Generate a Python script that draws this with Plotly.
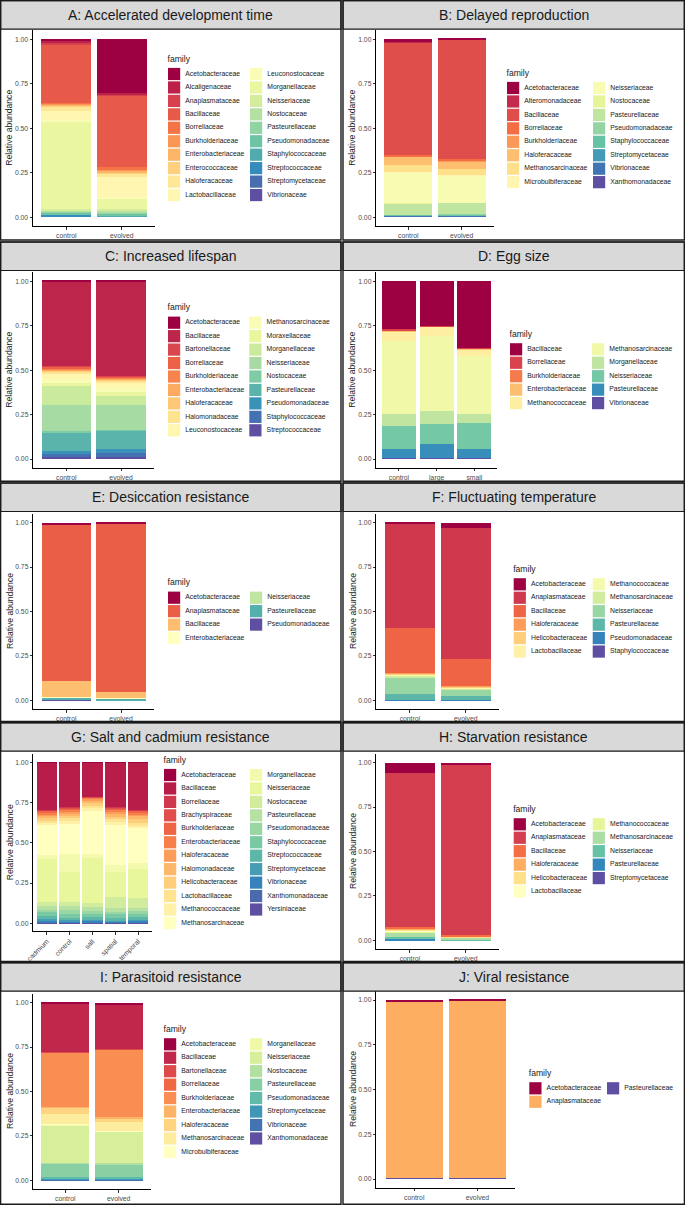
import math
import plotly.graph_objects as go

# ------------------------------------------------------------------ data
titles = ["A: Accelerated development time", "B: Delayed reproduction", "C: Increased lifespan",
          "D: Egg size", "E: Desiccation resistance", "F: Fluctuating temperature",
          "G: Salt and cadmium resistance", "H: Starvation resistance",
          "I: Parasitoid resistance", "J: Viral resistance"]

fam_A = ["Acetobacteraceae", "Alcaligenaceae", "Anaplasmataceae", "Bacillaceae", "Borreliaceae",
         "Burkholderiaceae", "Enterobacteriaceae", "Enterococcaceae", "Haloferacaceae",
         "Lactobacillaceae", "Leuconostocaceae", "Morganellaceae", "Neisseriaceae", "Nostocaceae",
         "Pasteurellaceae", "Pseudomonadaceae", "Staphylococcaceae", "Streptococcaceae",
         "Streptomycetaceae", "Vibrionaceae"]
samples_A = ["control", "evolved"]
A_control = [0.009, 0.010, 0.013, 0.324, 0.005, 0.006, 0.008, 0.007, 0.019, 0.052, 0.010, 0.492,
             0.009, 0.008, 0.006, 0.007, 0.004, 0.009, 0.001, 0.001]
A_evolved = [0.303, 0.008, 0.007, 0.397, 0.019, 0.008, 0.007, 0.010, 0.012, 0.115, 0.010, 0.058,
             0.012, 0.008, 0.009, 0.008, 0.006, 0.002, 0.001, 0.000]

fam_B = ["Acetobacteraceae", "Alteromonadaceae", "Bacillaceae", "Borreliaceae", "Burkholderiaceae",
         "Haloferacaceae", "Methanosarcinaceae", "Microbulbiferaceae", "Neisseriaceae", "Nostocaceae",
         "Pasteurellaceae", "Pseudomonadaceae", "Staphylococcaceae", "Streptomycetaceae",
         "Vibrionaceae", "Xanthomonadaceae"]
samples_B = ["control", "evolved"]
B_control = [0.015, 0.004, 0.631, 0.009, 0.004, 0.043, 0.037, 0.006, 0.172, 0.004, 0.062, 0.002,
             0.002, 0.003, 0.005, 0.001]
B_evolved = [0.001, 0.001, 0.672, 0.011, 0.004, 0.039, 0.034, 0.004, 0.152, 0.003, 0.062, 0.004,
             0.003, 0.004, 0.005, 0.001]

fam_C = ["Acetobacteraceae", "Bacillaceae", "Bartonellaceae", "Borreliaceae", "Burkholderiaceae",
         "Enterobacteriaceae", "Haloferacaceae", "Halomonadaceae", "Leuconostocaceae",
         "Methanosarcinaceae", "Moraxellaceae", "Morganellaceae", "Neisseriaceae", "Nostocaceae",
         "Pasteurellaceae", "Pseudomonadaceae", "Staphylococcaceae", "Streptococcaceae"]
samples_C = ["control", "evolved"]
C_control = [0.001, 0.476, 0.005, 0.010, 0.005, 0.006, 0.008, 0.011, 0.030, 0.023, 0.015, 0.105,
             0.148, 0.009, 0.103, 0.015, 0.020, 0.010]
C_evolved = [0.001, 0.532, 0.005, 0.008, 0.005, 0.005, 0.007, 0.008, 0.030, 0.022, 0.025, 0.047,
             0.140, 0.008, 0.102, 0.020, 0.023, 0.012]

fam_D = ["Bacillaceae", "Borreliaceae", "Burkholderiaceae", "Enterobacteriaceae", "Methanococcaceae",
         "Methanosarcinaceae", "Morganellaceae", "Neisseriaceae", "Pasteurellaceae", "Vibrionaceae"]
samples_D = ["control", "large", "small"]
D_control = [0.270, 0.008, 0.002, 0.003, 0.051, 0.413, 0.067, 0.130, 0.048, 0.008]
D_large = [0.251, 0.004, 0.002, 0.002, 0.049, 0.422, 0.071, 0.113, 0.078, 0.008]
D_small = [0.377, 0.004, 0.002, 0.002, 0.035, 0.327, 0.050, 0.145, 0.050, 0.008]

fam_E = ["Acetobacteraceae", "Anaplasmataceae", "Bacillaceae", "Enterobacteriaceae",
         "Neisseriaceae", "Pasteurellaceae", "Pseudomonadaceae"]
samples_E = ["control", "evolved"]
E_control = [0.011, 0.882, 0.090, 0.001, 0.002, 0.009, 0.005]
E_evolved = [0.001, 0.950, 0.038, 0.001, 0.001, 0.008, 0.001]

fam_F = ["Acetobacteraceae", "Anaplasmataceae", "Bacillaceae", "Haloferacaceae", "Helicobacteraceae",
         "Lactobacillaceae", "Methanococcaceae", "Methanosarcinaceae", "Neisseriaceae",
         "Pasteurellaceae", "Pseudomonadaceae", "Staphylococcaceae"]
samples_F = ["control", "evolved"]
F_control = [0.004, 0.587, 0.253, 0.003, 0.004, 0.004, 0.005, 0.015, 0.087, 0.034, 0.003, 0.001]
F_evolved = [0.028, 0.741, 0.150, 0.003, 0.004, 0.005, 0.004, 0.004, 0.039, 0.020, 0.001, 0.001]

fam_G = ["Acetobacteraceae", "Bacillaceae", "Borreliaceae", "Brachyspiraceae", "Burkholderiaceae",
         "Enterobacteriaceae", "Haloferacaceae", "Halomonadaceae", "Helicobacteraceae",
         "Lactobacillaceae", "Methanococcaceae", "Methanosarcinaceae", "Morganellaceae",
         "Neisseriaceae", "Nostocaceae", "Pasteurellaceae", "Pseudomonadaceae", "Staphylococcaceae",
         "Streptococcaceae", "Streptomycetaceae", "Vibrionaceae", "Xanthomonadaceae", "Yersiniaceae"]
samples_G = ["cadmium", "control", "salt", "spatial", "temporal"]
G_cadmium = [0.002, 0.294, 0.004, 0.004, 0.007, 0.012, 0.012, 0.013, 0.012, 0.015, 0.010, 0.191,
             0.024, 0.265, 0.025, 0.027, 0.015, 0.020, 0.023, 0.008, 0.013, 0.002, 0.002]
G_control = [0.004, 0.276, 0.003, 0.003, 0.010, 0.015, 0.010, 0.012, 0.012, 0.020, 0.020, 0.185,
             0.110, 0.190, 0.025, 0.025, 0.020, 0.025, 0.015, 0.008, 0.006, 0.003, 0.003]
G_salt = [0.002, 0.211, 0.003, 0.002, 0.004, 0.006, 0.008, 0.015, 0.018, 0.016, 0.017, 0.269,
          0.025, 0.280, 0.020, 0.030, 0.015, 0.020, 0.017, 0.008, 0.010, 0.002, 0.002]
G_spatial = [0.002, 0.278, 0.004, 0.003, 0.008, 0.010, 0.015, 0.020, 0.012, 0.020, 0.018, 0.248,
             0.045, 0.151, 0.073, 0.020, 0.018, 0.020, 0.018, 0.006, 0.007, 0.002, 0.002]
G_temporal = [0.002, 0.294, 0.004, 0.003, 0.008, 0.012, 0.012, 0.020, 0.020, 0.020, 0.012, 0.220,
              0.036, 0.178, 0.062, 0.022, 0.018, 0.020, 0.018, 0.006, 0.009, 0.002, 0.002]

fam_H = ["Acetobacteraceae", "Anaplasmataceae", "Bacillaceae", "Haloferacaceae", "Helicobacteraceae",
         "Lactobacillaceae", "Methanococcaceae", "Methanosarcinaceae", "Neisseriaceae",
         "Pasteurellaceae", "Streptomycetaceae"]
samples_H = ["control", "evolved"]
H_control = [0.056, 0.869, 0.013, 0.003, 0.004, 0.006, 0.004, 0.027, 0.012, 0.004, 0.002]
H_evolved = [0.011, 0.961, 0.004, 0.003, 0.002, 0.002, 0.002, 0.009, 0.004, 0.001, 0.001]

fam_I = ["Acetobacteraceae", "Bacillaceae", "Bartonellaceae", "Borreliaceae", "Burkholderiaceae",
         "Enterobacteriaceae", "Haloferacaceae", "Methanosarcinaceae", "Microbulbiferaceae",
         "Morganellaceae", "Neisseriaceae", "Nostocaceae", "Pasteurellaceae", "Pseudomonadaceae",
         "Streptomycetaceae", "Vibrionaceae", "Xanthomonadaceae"]
samples_I = ["control", "evolved"]
I_control = [0.004, 0.274, 0.002, 0.002, 0.303, 0.005, 0.035, 0.060, 0.002, 0.003, 0.212, 0.004,
             0.076, 0.006, 0.004, 0.006, 0.002]
I_evolved = [0.013, 0.246, 0.002, 0.002, 0.382, 0.005, 0.020, 0.050, 0.002, 0.003, 0.180, 0.004,
             0.075, 0.005, 0.003, 0.006, 0.002]

fam_J = ["Acetobacteraceae", "Anaplasmataceae", "Pasteurellaceae"]
samples_J = ["control", "evolved"]
J_control = [0.008, 0.986, 0.006]
J_evolved = [0.001, 0.994, 0.005]
colors_J = ["#9E0142", "#FDAE61", "#5E4FA2"]

y_ticks = [0, 0.25, 0.5, 0.75, 1.0]
y_ticklabels = ["0.00", "0.25", "0.50", "0.75", "1.00"]

# ------------------------------------------------------------------ styling / geometry
FIG_W, FIG_H = 685, 1205
FONT = "Liberation Sans, Arial, Helvetica, sans-serif"
SPECTRAL = ["#9E0142", "#D53E4F", "#F46D43", "#FDAE61", "#FEE08B", "#FFFFBF",
            "#E6F598", "#ABDDA4", "#66C2A5", "#3288BD", "#5E4FA2"]


def ramp(n):
    def h2r(h):
        return [int(h[i:i + 2], 16) for i in (1, 3, 5)]
    base = [h2r(c) for c in SPECTRAL]
    out = []
    for i in range(n):
        t = i * (len(base) - 1) / max(n - 1, 1)
        lo = min(int(math.floor(t)), len(base) - 2)
        f = t - lo
        c = [round(base[lo][k] + (base[lo + 1][k] - base[lo][k]) * f) for k in range(3)]
        out.append("#%02X%02X%02X" % tuple(c))
    return out


panels = [
    dict(fams=fam_A, samples=samples_A, vals=[A_control, A_evolved]),
    dict(fams=fam_B, samples=samples_B, vals=[B_control, B_evolved]),
    dict(fams=fam_C, samples=samples_C, vals=[C_control, C_evolved]),
    dict(fams=fam_D, samples=samples_D, vals=[D_control, D_large, D_small]),
    dict(fams=fam_E, samples=samples_E, vals=[E_control, E_evolved]),
    dict(fams=fam_F, samples=samples_F, vals=[F_control, F_evolved]),
    dict(fams=fam_G, samples=samples_G, vals=[G_cadmium, G_control, G_salt, G_spatial, G_temporal]),
    dict(fams=fam_H, samples=samples_H, vals=[H_control, H_evolved]),
    dict(fams=fam_I, samples=samples_I, vals=[I_control, I_evolved]),
    dict(fams=fam_J, samples=samples_J, vals=[J_control, J_evolved], colors=colors_J),
]

# local pixel geometry of each panel (relative to the panel origin)
geo = [
    dict(x0=33.0, x1=155.0, p1=39.3, p0=217.3, k1=168.0, k2=250.0, r1=74.0),
    dict(x0=34.3, x1=151.7, p1=39.3, p0=217.3, k1=165.0, k2=251.0, r1=88.0),
    dict(x0=33.3, x1=154.0, p1=41.3, p0=219.0, k1=168.0, k2=249.3, r1=82.7),
    dict(x0=34.3, x1=155.0, p1=41.3, p0=219.0, k1=168.0, k2=250.0, r1=109.3),
    dict(x0=33.3, x1=154.0, p1=42.7, p0=220.3, k1=168.0, k2=250.0, r1=117.7),
    dict(x0=34.3, x1=157.3, p1=42.7, p0=220.3, k1=171.7, k2=250.7, r1=104.3),
    dict(x0=33.3, x1=151.7, p1=42.3, p0=203.3, k1=164.0, k2=250.0, r1=55.0),
    dict(x0=34.3, x1=157.3, p1=42.7, p0=220.3, k1=171.7, k2=250.7, r1=104.3),
    dict(x0=33.3, x1=150.7, p1=42.7, p0=220.3, k1=164.0, k2=250.0, r1=84.3),
    dict(x0=34.3, x1=173.3, p1=40.0, p0=219.0, k1=187.3, k2=265.0, r1=128.3),
]
col_x = [0, 342]
row_y = [0, 240, 480, 720, 960]
box_top = [0.6, 242.0, 483.0, 722.7, 962.7]
box_bot = [240.0, 481.3, 721.5, 961.5, 1204.2]
box_l = [0.6, 343.0]
box_r = [341.0, 684.4]
STRIP_H = 28.5
ROW_PITCH = 13.45
KEY = 12.2
TXT_OFF = 17.3
SMALL = 6.8


def px(x):
    return x / FIG_W


def py(y):
    return 1 - y / FIG_H


fig = go.Figure()
layout = dict(width=FIG_W, height=FIG_H, autosize=False,
              margin=dict(l=0, r=0, t=0, b=0, pad=0, autoexpand=False),
              paper_bgcolor="white", plot_bgcolor="rgba(0,0,0,0)",
              barmode="stack", bargap=0.1, showlegend=False,
              font=dict(family=FONT, color="#1A1A1A"))
shapes, annos = [], []

for p, (pan, g) in enumerate(zip(panels, geo)):
    ci, ri = p % 2, p // 2
    ox, oy = col_x[ci], row_y[ri]
    fams = pan["fams"]
    n = len(fams)
    cols = pan.get("colors") or ramp(n)
    ns = len(pan["samples"])
    bx, by = 2 * p + 1, 2 * p + 2
    xa, ya = "x%d" % bx, "y%d" % bx
    xl, yl = "x%d" % by, "y%d" % by

    # stacked bars: last family at the bottom
    for j in range(n - 1, -1, -1):
        fig.add_trace(go.Bar(x=pan["samples"], y=[v[j] for v in pan["vals"]],
                             marker=dict(color=cols[j], line=dict(width=0)),
                             xaxis=xa, yaxis=ya, hoverinfo="x+y", name=fams[j]))
    unit = g["p0"] - g["p1"]
    top = oy + g["p1"] - 0.05 * unit
    bot = oy + g["p0"] + 0.05 * unit
    axline = dict(showline=True, linecolor="black", linewidth=1, ticks="outside", ticklen=2.5,
                  tickcolor="#333333", tickwidth=1, showgrid=False, zeroline=False,
                  automargin=False,
                  tickfont=dict(size=SMALL, color="#4D4D4D", family=FONT))
    layout["xaxis%d" % bx] = dict(domain=[px(ox + g["x0"]), px(ox + g["x1"])], anchor=ya,
                                  type="category", categoryorder="array",
                                  categoryarray=pan["samples"], range=[-0.6, ns - 0.4],
                                  tickangle=-45 if p == 6 else 0, **axline)
    layout["yaxis%d" % bx] = dict(domain=[py(bot), py(top)], anchor=xa, range=[-0.05, 1.05],
                                  tickvals=y_ticks, ticktext=y_ticklabels, **axline)

    # legend drawn in a pixel-scaled overlay axis
    pw = 343 if ci else 342
    ph = FIG_H - oy if ri == 4 else 240
    layout["xaxis%d" % by] = dict(domain=[px(ox), px(ox + pw)], range=[0, pw], visible=False,
                                  anchor=yl, fixedrange=True, automargin=False)
    layout["yaxis%d" % by] = dict(domain=[py(oy + ph), py(oy)], range=[ph, 0], visible=False,
                                  anchor=xl, fixedrange=True, automargin=False)
    nrow = math.ceil(n / 2)
    kx = [(g["k1"] if i < nrow else g["k2"]) + KEY / 2 for i in range(n)]
    ky = [g["r1"] + (i % nrow) * ROW_PITCH for i in range(n)]
    fig.add_trace(go.Scatter(x=kx, y=ky, mode="markers", xaxis=xl, yaxis=yl, hoverinfo="skip",
                             cliponaxis=False,
                             marker=dict(symbol="square", size=KEY, color=cols, line=dict(width=0))))
    fig.add_trace(go.Scatter(x=[k - KEY / 2 + TXT_OFF for k in kx], y=ky, mode="text", text=fams,
                             textposition="middle right", xaxis=xl, yaxis=yl, hoverinfo="skip",
                             cliponaxis=False,
                             textfont=dict(size=SMALL, color="#1A1A1A", family=FONT)))
    fig.add_trace(go.Scatter(x=[g["k1"] - 0.5], y=[g["r1"] - 14.6], mode="text", text=["family"],
                             textposition="middle right", xaxis=xl, yaxis=yl, hoverinfo="skip",
                             cliponaxis=False,
                             textfont=dict(size=8.6, color="#1A1A1A", family=FONT)))

    # panel frame + strip
    L, R, T, B = box_l[ci], box_r[ci], box_top[ri], box_bot[ri]
    shapes.append(dict(type="rect", xref="paper", yref="paper", x0=px(L), x1=px(R),
                       y0=py(T + STRIP_H), y1=py(T), fillcolor="#D9D9D9",
                       line=dict(color="#1A1A1A", width=1.2), layer="above"))
    shapes.append(dict(type="rect", xref="paper", yref="paper", x0=px(L), x1=px(R),
                       y0=py(B), y1=py(T), fillcolor="rgba(0,0,0,0)",
                       line=dict(color="#1A1A1A", width=1.4), layer="above"))
    annos.append(dict(xref="paper", yref="paper", x=px((L + R) / 2), y=py(T + STRIP_H / 2),
                      text=titles[p], showarrow=False, xanchor="center", yanchor="middle",
                      font=dict(size=14, color="#1A1A1A", family=FONT)))
    annos.append(dict(xref="paper", yref="paper", x=px(ox + (10.5 if ci else 9.5)),
                      y=py(oy + (g["p1"] + g["p0"]) / 2), text="Relative abundance",
                      textangle=-90, showarrow=False, xanchor="center", yanchor="middle",
                      font=dict(size=8.6, color="#1A1A1A", family=FONT)))

layout["shapes"] = shapes
layout["annotations"] = annos
fig.update_layout(**layout)

fix_page = (
    "document.documentElement.style.margin='0';document.documentElement.style.overflow='hidden';"
    "document.body.style.margin='0';document.body.style.padding='0';document.body.style.overflow='hidden';"
    "var gd=document.getElementsByClassName('plotly-graph-div')[0];"
    "gd.style.position='absolute';gd.style.left='0px';gd.style.top='0px';"
)
fig.write_html("out.html", post_script=fix_page,
               config={"displayModeBar": False, "responsive": False})
